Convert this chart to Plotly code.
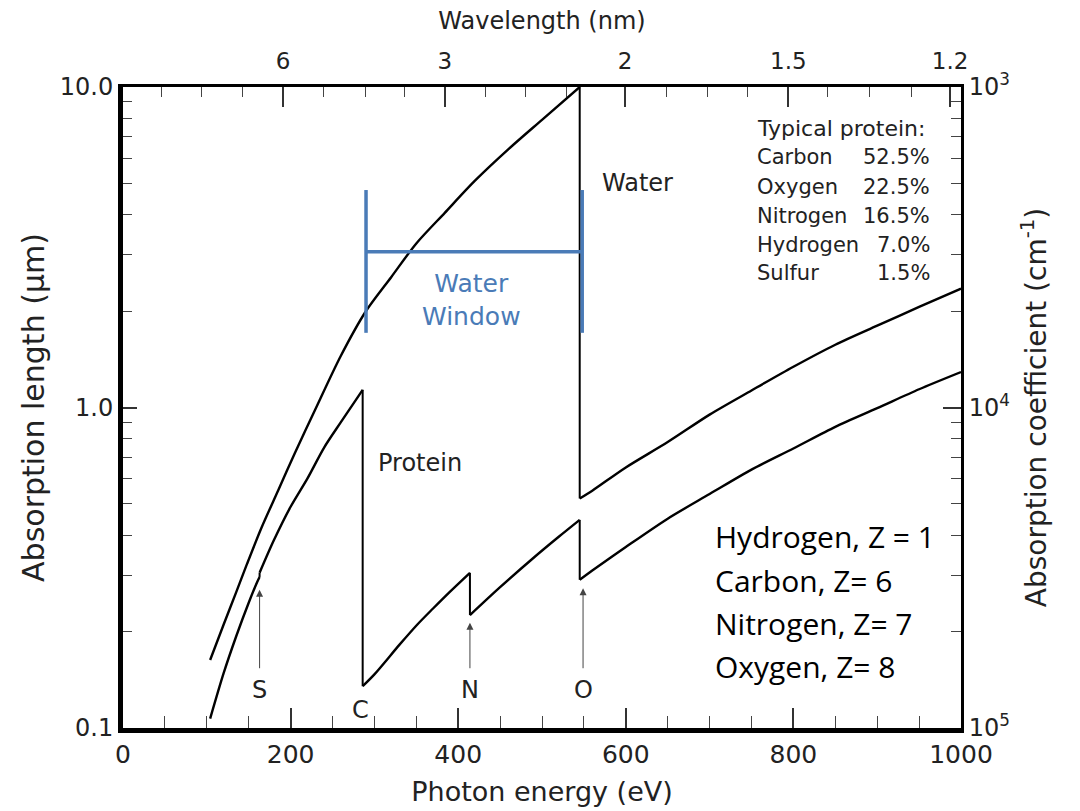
import numpy as np
import plotly.graph_objects as go

# ---------------- data ----------------
# Water absorption length (um) vs photon energy (eV); O K-edge at ~545 eV
water_E = [104, 120, 135, 148, 165, 185, 205, 229, 260, 290, 320, 350, 384, 420, 460, 500, 545,
           545, 560, 600, 650, 700, 750, 800, 850, 900, 950, 1000]
water_L = [0.163, 0.21, 0.265, 0.325, 0.42, 0.55, 0.72, 0.98, 1.45, 2.0, 2.55, 3.25, 4.05, 5.1, 6.4, 7.9, 10.0,
           0.52, 0.55, 0.65, 0.78, 0.95, 1.13, 1.34, 1.57, 1.8, 2.06, 2.35]

# Typical protein absorption length (um); S, C, N, O edges
protein_E = [104, 120, 135, 150, 160, 163, 163, 180, 200, 220, 240, 260, 286,
             286, 300, 330, 351, 370, 390, 414,
             414, 450, 489, 520, 545,
             545, 560, 600, 650, 700, 750, 800, 850, 900, 950, 1000]
protein_L = [0.107, 0.148, 0.193, 0.246, 0.285, 0.296, 0.305, 0.385, 0.49, 0.6, 0.75, 0.9, 1.135,
             0.135, 0.147, 0.182, 0.21, 0.236, 0.266, 0.305,
             0.225, 0.275, 0.338, 0.395, 0.446,
             0.29, 0.31, 0.367, 0.45, 0.537, 0.64, 0.745, 0.87, 0.995, 1.14, 1.29]

# Water window marker (eV / um)
window_E = [290, 548]
window_bar = [1.71, 4.77]
window_mid = 3.06

# Edge arrows: label, energy, arrow tip, arrow tail, label height (um)
edge_labels = ["S", "N", "O"]
edge_E = [163, 414, 549]
edge_tip = [0.27, 0.213, 0.273]
edge_tail = [0.152, 0.152, 0.152]
edge_label_y = [0.1315, 0.1315, 0.1315]
c_label = ("C", 283, 0.114)

# Axes ticks
x_ticks = [0, 200, 400, 600, 800, 1000]
y_ticks = [0.1, 1, 10]
y_ticktext = ["0.1", "1.0", "10.0"]
y2_ticktext = ["10<sup>5</sup>", "10<sup>4</sup>", "10<sup>3</sup>"]
y_minor = [0.2, 0.3, 0.4, 0.5, 0.6, 0.7, 0.8, 0.9, 2, 3, 4, 5, 6, 7, 8, 9]
wl_tick_pos = [191, 384, 599, 794, 987]          # position on the energy scale
wl_tick_text = ["6", "3", "2", "1.5", "1.2"]
wl_minor_pos = [46, 94, 142, 239, 289, 336, 432, 480, 529, 649, 697, 745, 841, 891, 941]

composition_names = ["Carbon", "Oxygen", "Nitrogen", "Hydrogen", "Sulfur"]
composition_pct = ["52.5%", "22.5%", "16.5%", "7.0%", "1.5%"]
elements_text = ["Hydrogen, Z = 1", "Carbon, Z= 6", "Nitrogen, Z= 7", "Oxygen, Z= 8"]

# ---------------- helpers ----------------
def split_edges(E, L):
    """Smooth segments separated by None, and vertical edge jumps."""
    sx, sy, ex, ey = [], [], [], []
    for i, (e, l) in enumerate(zip(E, L)):
        if i > 0 and e == E[i - 1]:
            sx.append(None); sy.append(None)
            ex += [E[i - 1], e, None]; ey += [L[i - 1], l, None]
        sx.append(e); sy.append(l)
    return sx, sy, ex, ey

# ---------------- figure ----------------
FONT = "DejaVu Sans"
TXT = "#222222"
BLUE = "#4a7bb7"

fig = go.Figure()
for E, L, xa, ya in [(water_E, water_L, "x", "y"), (protein_E, protein_L, "x2", "y2")]:
    sx, sy, ex, ey = split_edges(E, L)
    fig.add_trace(go.Scatter(x=sx, y=sy, mode="lines", xaxis=xa, yaxis=ya, connectgaps=False,
                             line=dict(color="black", width=2.4, shape="spline", smoothing=0.8),
                             hoverinfo="skip", showlegend=False))
    fig.add_trace(go.Scatter(x=ex, y=ey, mode="lines", xaxis=xa, yaxis=ya,
                             line=dict(color="black", width=2.0),
                             hoverinfo="skip", showlegend=False))
# water window bracket
wx = [window_E[0], window_E[0], None, window_E[0], window_E[1], None, window_E[1], window_E[1]]
wy = [window_bar[0], window_bar[1], None, window_mid, window_mid, None, window_bar[0], window_bar[1]]
fig.add_trace(go.Scatter(x=wx, y=wy, mode="lines", line=dict(color=BLUE, width=3.5),
                         hoverinfo="skip", showlegend=False))

ann = []
for lab, e, tip, tail, ly in zip(edge_labels, edge_E, edge_tip, edge_tail, edge_label_y):
    ann.append(dict(x=e, y=np.log10(tip), ax=e, ay=np.log10(tail), xref="x", yref="y",
                    axref="x", ayref="y", showarrow=True, arrowhead=2, arrowsize=1.4,
                    arrowwidth=1, arrowcolor="#444", text=""))
    ann.append(dict(x=e, y=np.log10(ly), xref="x", yref="y", text=lab, showarrow=False,
                    xanchor="center", yanchor="middle",
                    font=dict(family=FONT, size=24, color=TXT)))
ann.append(dict(x=c_label[1], y=np.log10(c_label[2]), xref="x", yref="y", text=c_label[0],
                xanchor="center", yanchor="middle",
                showarrow=False, font=dict(family=FONT, size=24, color=TXT)))

ann.append(dict(x=569, y=0.70, xref="x", yref="y", text="Water", xanchor="left", yanchor="middle",
                showarrow=False, font=dict(family=FONT, size=24, color=TXT)))
ann.append(dict(x=302, y=-0.173, xref="x", yref="y", text="Protein", xanchor="left", yanchor="middle",
                showarrow=False, font=dict(family=FONT, size=24, color=TXT)))
ann.append(dict(x=416, y=0.335, xref="x", yref="y", text="Water<br>Window", showarrow=False,
                xanchor="center", yanchor="middle",
                font=dict(family=FONT, size=25, color=BLUE)))

# Typical protein block
ann.append(dict(x=0.754, y=0.936, xref="paper", yref="paper", text="Typical protein:", xanchor="left",
                yanchor="middle", showarrow=False, font=dict(family=FONT, size=22, color=TXT)))
row_y = [0.891, 0.844, 0.799, 0.754, 0.710]
for name, pct, yy in zip(composition_names, composition_pct, row_y):
    ann.append(dict(x=0.754, y=yy, xref="paper", yref="paper", text=name, xanchor="left",
                    yanchor="middle", showarrow=False, font=dict(family=FONT, size=21, color=TXT)))
    ann.append(dict(x=0.965, y=yy, xref="paper", yref="paper", text=pct, xanchor="right",
                    yanchor="middle", showarrow=False, font=dict(family=FONT, size=21, color=TXT)))

el_y = [0.298, 0.2305, 0.163, 0.096]
for t, yy in zip(elements_text, el_y):
    ann.append(dict(x=0.704, y=yy, xref="paper", yref="paper", text=t, xanchor="left",
                    yanchor="middle", showarrow=False,
                    font=dict(family="Open Sans", size=30, color="black")))

fig.update_layout(
    width=1080, height=811,
    margin=dict(l=123, r=119, t=87, b=83),
    paper_bgcolor="white", plot_bgcolor="white",
    font=dict(family=FONT, color=TXT),
    annotations=ann,
    xaxis=dict(range=[0, 1000], tickvals=x_ticks, ticks="inside", ticklen=20, tickwidth=1.5,
               tickcolor="#333", showline=True, linewidth=5, linecolor="black", showgrid=False,
               zeroline=False, automargin=False, tickfont=dict(size=25, family=FONT, color=TXT),
               minor=dict(dtick=50, tick0=0, ticks="inside", ticklen=12, tickcolor="#444", tickwidth=1.2),
               title=dict(text="Photon energy (eV)", font=dict(size=27, family=FONT, color=TXT), standoff=16)),
    xaxis2=dict(range=[0, 1000], overlaying="x", side="top", tickvals=wl_tick_pos, ticktext=wl_tick_text,
                ticks="inside", ticklen=20, tickwidth=1.5, tickcolor="#333", showline=True, linewidth=3,
                linecolor="black", showgrid=False, zeroline=False, ticklabelstandoff=6, automargin=False,
                tickfont=dict(size=23, family=FONT, color=TXT),
                minor=dict(tickvals=wl_minor_pos, ticks="inside", ticklen=10, tickcolor="#444", tickwidth=1.2),
                title=dict(text="Wavelength (nm)", font=dict(size=24, family=FONT, color=TXT), standoff=12)),
    yaxis=dict(type="log", range=[-1, 1], tickvals=y_ticks, ticktext=y_ticktext, ticks="inside",
               ticklen=14, tickwidth=1.5, tickcolor="#333", showline=True, linewidth=5, linecolor="black",
               showgrid=False, zeroline=False, automargin=False, tickfont=dict(size=24, family=FONT, color=TXT),
               minor=dict(tickvals=y_minor, ticks="inside", ticklen=9, tickcolor="#444", tickwidth=1.2),
               title=dict(text="Absorption length (µm)", font=dict(size=30, family=FONT, color=TXT), standoff=8)),
    yaxis2=dict(type="log", range=[-1, 1], overlaying="y", side="right", tickvals=y_ticks,
                ticktext=y2_ticktext, ticks="inside", ticklen=18, tickwidth=1.5, tickcolor="#333",
                showline=True, linewidth=3, linecolor="black", showgrid=False, zeroline=False,
                automargin=False, tickfont=dict(size=24, family=FONT, color=TXT),
                minor=dict(tickvals=y_minor, ticks="inside", ticklen=10, tickcolor="#444", tickwidth=1.2),
                title=dict(text="Absorption coefficient (cm<sup>-1</sup>)",
                           font=dict(size=28, family=FONT, color=TXT), standoff=18)),
)

fig.write_html("out.html")
